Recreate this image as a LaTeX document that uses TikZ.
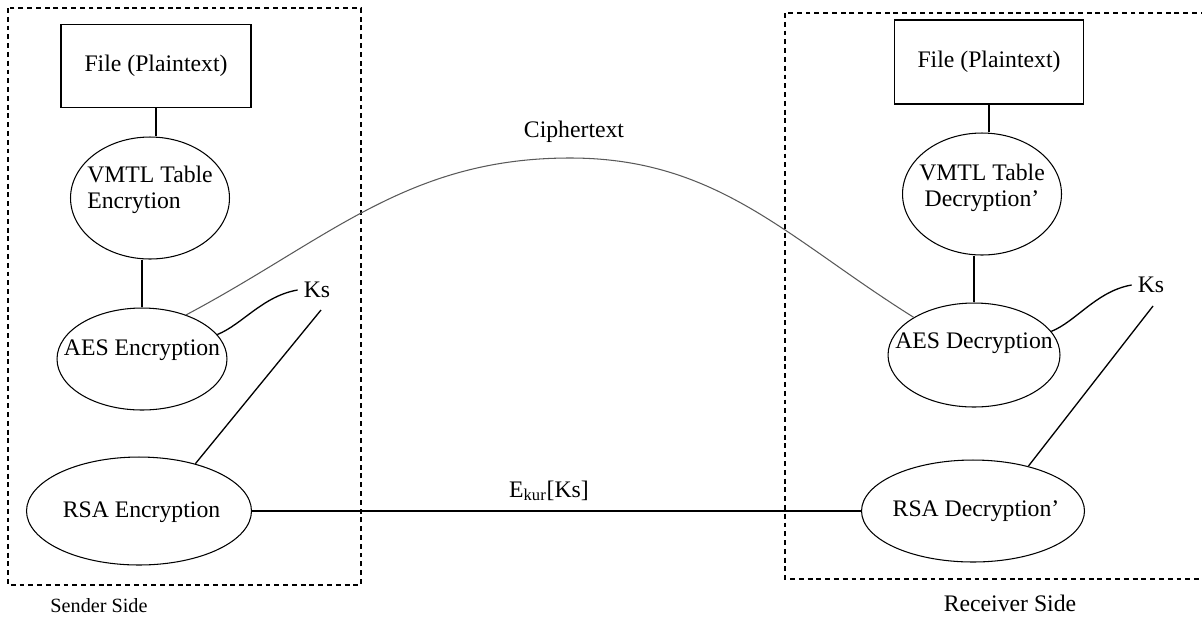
\documentclass[tikz,border=0pt]{standalone}
\usepackage{fontspec}
\setmainfont{Liberation Serif}
\usetikzlibrary{shapes}
\tikzset{box/.style={draw, rectangle, line width=0.7pt, inner sep=0pt},
         oval/.style={draw, ellipse, line width=0.6pt, inner sep=0pt},
         side/.style={line width=0.8pt, dash pattern=on 2.8pt off 2.2pt},
         link/.style={line width=0.75pt}}

\begin{document}
\begin{tikzpicture}[x=0.02cm, y=-0.02cm, font=\fontsize{13.5}{14.5}\selectfont]
\useasboundingbox (0,0) rectangle (1202,630);

% the two sides
\draw[side] (8,8) rectangle (361,585);
\draw[side] (785,13) rectangle (1220,579);
\node[font=\fontsize{11.5}{13}\selectfont] (sender) at (99,606) {Sender Side};
\node (receiver) at (1010,603) {Receiver Side};

% sender
\node[box, minimum width=3.8cm, minimum height=1.66cm] (fileenc) at (156,66) {File (Plaintext)};
\node[oval, minimum width=3.18cm, minimum height=2.44cm,
      label={[align=left, yshift=0.16cm]center:VMTL Table\\Encrytion}] (vmtlenc) at (150,198) {};
\node[oval, minimum width=3.4cm, minimum height=2.04cm,
      label={[yshift=0.18cm]center:AES Encryption}] (aesenc) at (142,359) {};
\node[oval, minimum width=4.5cm, minimum height=2.16cm,
      label={[xshift=0.05cm, yshift=-0.02cm]center:RSA Encryption}] (rsaenc) at (139,511) {};
\node (ksenc) at (317,290) {Ks};
\coordinate (kstailenc) at (321,310);

% receiver
\node[box, minimum width=3.78cm, minimum height=1.68cm] (filedec) at (989,62) {File (Plaintext)};
\node[oval, minimum width=3.18cm, minimum height=2.44cm,
      label={[align=center, yshift=0.12cm]center:VMTL Table\\Decryption'}] (vmtldec) at (982,194) {};
\node[oval, minimum width=3.44cm, minimum height=2.08cm,
      label={[yshift=0.24cm]center:AES Decryption}] (aesdec) at (974,355) {};
\node[oval, minimum width=4.46cm, minimum height=2.04cm,
      label={[xshift=0.06cm]center:RSA Decryption'}] (rsadec) at (973,511) {};
\node (ksdec) at (1151,285) {Ks};
\coordinate (kstaildec) at (1153,306);

\draw[link] (fileenc.south) -- (vmtlenc.north -| fileenc.south);
\draw[link] (vmtlenc.south -| aesenc.north) -- (aesenc.north);
\draw[link] (filedec.south) -- (vmtldec.north -| filedec.south);
\draw[link] (vmtldec.south -| aesdec.north) -- (aesdec.north);

% session key
\draw[link] (aesenc.18) .. controls +(25,-10) and +(-35,6) .. (ksenc.west);
\draw[link] (kstailenc) -- (rsaenc.40);
\draw[link] (aesdec.17) .. controls +(25,-10) and +(-35,6) .. (ksdec.west);
\draw[link] (kstaildec) -- (rsadec.39);

% ciphertext and encrypted key
\node (cipher) at (574,132) {Ciphertext};
\draw[black!65, line width=0.6pt] (aesenc.45) to[out=28, in=180] (570,158) to[out=0, in=148] (aesdec.148);
\draw[link] (rsaenc.east) -- (rsadec.west) node[midway, above=2pt, xshift=-0.15cm] (ekey) {E\textsubscript{kur}[Ks]};
\end{tikzpicture}
\end{document}
